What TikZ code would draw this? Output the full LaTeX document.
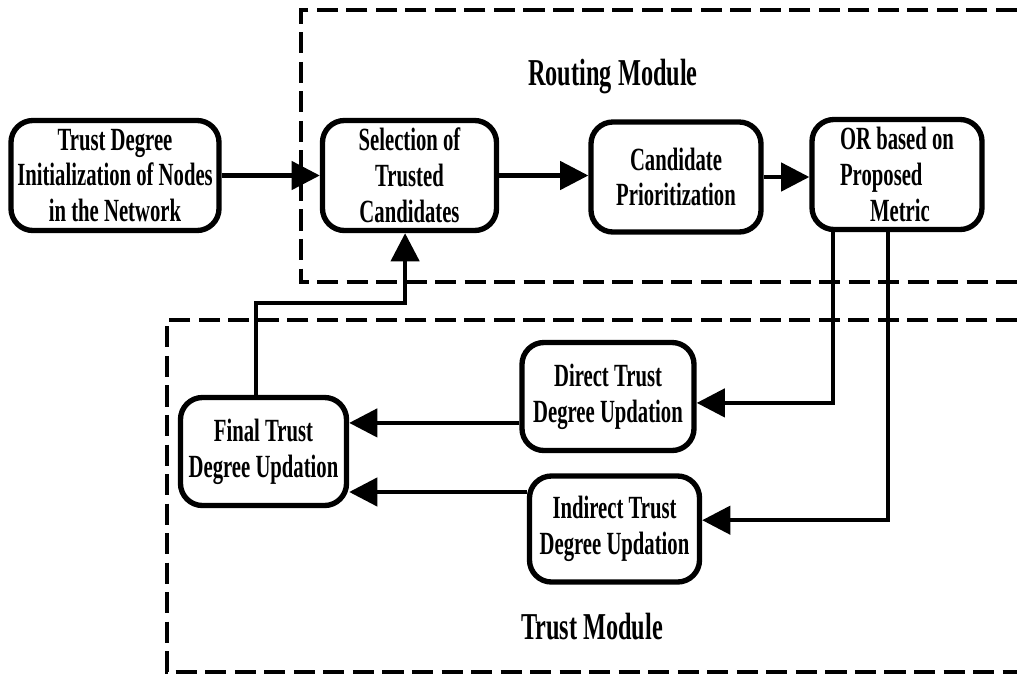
\documentclass[tikz,border=0pt]{standalone}
\usepackage{fontspec}
\setmainfont{Liberation Serif}[FakeStretch=0.64]
\usetikzlibrary{arrows.meta}
\usetikzlibrary{positioning}

\tikzset{
  blk/.style={draw=black,line width=3.8pt,rounded corners=0.55cm,align=center,inner sep=0pt,font=\fontsize{23}{25.5}\selectfont\bfseries},
  flow/.style={draw=black,line width=2.9pt,-{Triangle[length=20pt,width=20pt]}},
  module/.style={draw=black,line width=2.4pt,dash pattern=on 15pt off 6pt},
  title/.style={font=\fontsize{27}{30}\selectfont\bfseries,text=black,anchor=center},
}

\begin{document}
\begin{tikzpicture}[x=0.025cm,y=-0.025cm]
\useasboundingbox (0,0) rectangle (1017,677);

\draw[module] (1017,10) -- (301,10) -- (301,282) -- (1017,282);
\node[title] (routingtitle) at (613,77) {Routing Module};
\draw[module] (1017,320) -- (167,320) -- (167,672) -- (1017,672);
\node[title] (trusttitle) at (592,627) {Trust Module};

\node[blk,minimum width=5.2cm,minimum height=2.75cm] (init) at (115,175.5) {Trust Degree\\Initialization of Nodes\\in the Network};
\node[blk,minimum width=4.35cm,minimum height=2.75cm] (select) at (409.5,175.5) {Selection of\\Trusted\\Candidates};
\node[blk,minimum width=4.25cm,minimum height=2.75cm] (prior) at (676,177) {Candidate\\Prioritization};
\node[blk,minimum width=4.25cm,minimum height=2.75cm,align=left] (orm) at (897,174.5) {OR based on\\Proposed\\\hspace*{0.75cm}Metric};

\node[blk,minimum width=4.3cm,minimum height=2.7cm] (direct) at (608,396.5) {Direct Trust\\Degree Updation};
\node[blk,minimum width=4.25cm,minimum height=2.65cm] (indirect) at (614.5,529) {Indirect Trust\\Degree Updation};
\node[blk,minimum width=4.15cm,minimum height=2.7cm] (final) at (263.5,451.5) {Final Trust\\Degree Updation};

\draw[flow] (init.east) -- (select.west);
\draw[flow] (select.east) -- (select.east -| prior.west);
\draw[flow] (prior.east) -- (prior.east -| orm.west);

\draw[flow] (orm.south west) ++(24,0) |- ([yshift=-0.16cm]direct.east);
\draw[flow] (orm.south west) ++(79,0) |- ([yshift=0.22cm]indirect.east);
\draw[flow] ([yshift=-0.66cm]direct.west) -- ([yshift=-0.66cm]direct.west -| final.east);
\draw[flow] ([yshift=0.925cm]indirect.west) -- ([yshift=0.925cm]indirect.west -| final.east);
\draw[flow] ([xshift=-0.19cm]final.north) -- ++(0,-92) -| ([xshift=-0.11cm]select.south);

\end{tikzpicture}
\end{document}
